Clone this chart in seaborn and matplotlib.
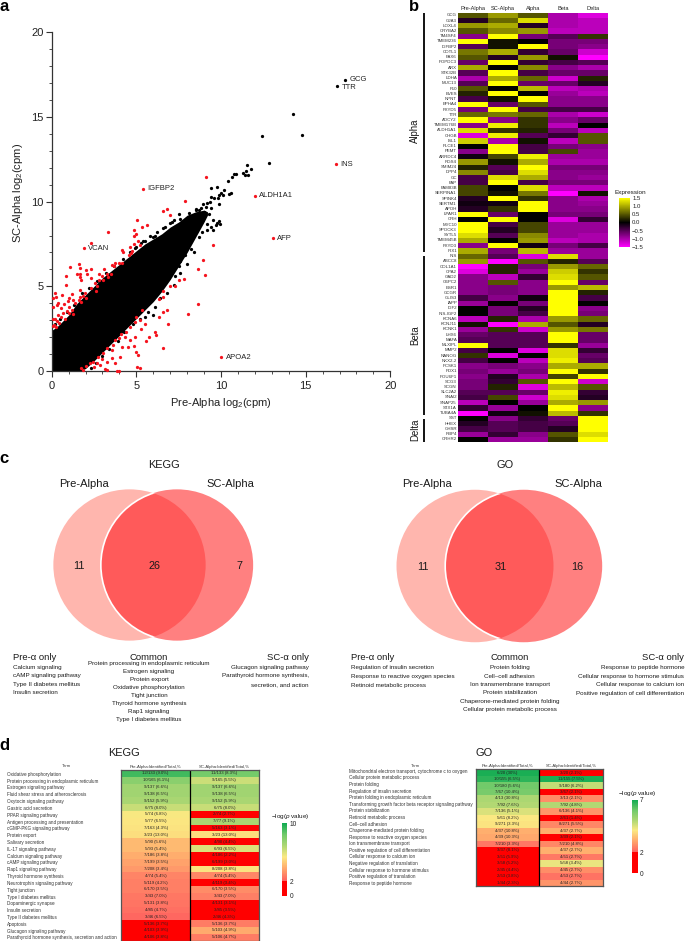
import numpy as np
import matplotlib
matplotlib.use("Agg")
import matplotlib.pyplot as plt
from matplotlib.colors import LinearSegmentedColormap
from matplotlib.patches import Ellipse
import seaborn as sns

sns.set_style("white")
plt.rcParams["font.family"] = ["Liberation Sans", "DejaVu Sans"]
plt.rcParams["mathtext.fontset"] = "custom"
plt.rcParams["mathtext.rm"] = "Liberation Sans"
plt.rcParams["mathtext.it"] = "Liberation Sans:italic"
plt.rcParams["mathtext.default"] = "regular"

W, H = 685, 941

# panel a - outline of the dense cloud
cloud_x = [0, 0.3, 0.6, 1, 1.5, 1.7, 2, 2.5, 3, 3.5, 4, 4.5, 5, 5.5, 6, 6.5, 7, 7.5, 8, 8.5, 9, 9.2]
cloud_hi = [2.4, 2.6, 2.9, 3.3, 4.0, 4.2, 4.5, 5.0, 5.5, 5.9, 6.3, 6.7, 7.1, 7.5, 7.8, 8.1, 8.5, 8.8, 9.2, 9.4, 9.5, 9.4]
cloud_lo = [0, 0, 0, 0, 0, 0, 0.15, 0.6, 1.1, 1.6, 2.1, 2.6, 3.1, 3.6, 4.1, 4.7, 5.4, 6.2, 7.0, 7.9, 8.8, 9.2]

black_x = [17.3, 16.85, 14.25, 14.8, 12.4, 12.85, 11.55, 11.75, 11.45, 11.6, 10.75, 10.9, 11.3, 11.4, 10.65, 10.4,
           10.6, 10.45, 10.2, 9.75, 10.0, 9.4, 9.9, 10.1, 9.4, 9.6, 9.8, 9.35, 9.9, 9.2, 8.95, 9.1, 9.4, 9.0, 9.3,
           9.05, 8.5, 8.7, 9.9, 9.95, 9.75, 9.5, 9.7, 9.4, 9.2, 9.5, 8.5, 8.7, 7.9, 8.25, 7.5, 7.9, 7.3, 7.6, 7.0,
           7.5, 7.15, 6.9, 6.6, 7.3, 7.0, 6.3, 6.6, 5.9, 6.2, 5.6, 6.0, 7.5, 7.0, 7.2, 6.7, 6.0, 6.1, 5.3, 5.5, 4.9,
           0.2, 0.5, 0.9, 1.3, 1.8, 2.2, 2.7, 3.2, 3.7, 4.2, 4.6, 5.0, 5.4, 5.8, 6.2, 6.6, 7.1, 7.6, 8.1, 8.5, 8.8,
           3.0, 3.4, 3.9, 4.3, 4.8, 5.2, 5.7, 6.1, 6.4, 6.8, 7.2, 7.6, 8.0, 8.4, 8.9, 9.2, 2.6, 2.3, 5.5, 6.0, 6.3]
black_y = [17.2, 16.85, 15.2, 13.95, 13.9, 12.3, 12.15, 11.9, 11.8, 11.6, 11.65, 11.65, 11.7, 11.55, 11.45, 11.2,
           10.5, 10.45, 10.7, 10.85, 10.5, 10.8, 10.4, 10.4, 10.3, 10.2, 10.2, 10.0, 9.85, 9.9, 9.85, 9.7, 9.6, 9.4,
           9.3, 9.2, 9.5, 9.5, 8.85, 8.7, 8.75, 8.9, 8.6, 8.5, 8.7, 8.35, 8.2, 7.9, 7.5, 7.2, 7.0, 6.85, 6.6, 6.5,
           6.5, 6.2, 6.2, 5.9, 5.8, 5.6, 5.7, 5.2, 5.3, 4.9, 4.7, 4.4, 4.5, 9.3, 8.75, 8.9, 8.5, 7.9, 7.95, 7.55, 7.7,
           7.25, 2.8, 3.1, 3.5, 3.9, 4.6, 4.9, 5.3, 5.8, 6.2, 6.6, 7.0, 7.35, 7.7, 8.0, 8.2, 8.45, 8.8, 9.0, 9.35,
           9.55, 9.6, 0.9, 1.3, 1.8, 2.3, 2.75, 3.1, 3.5, 3.8, 4.3, 4.6, 5.1, 5.8, 6.3, 7.0, 8.2, 8.3, 0.45, 0.2,
           3.2, 3.3, 4.9]

red_x = [1.9, 2.3, 3.3, 5.4, 9.1, 7.9, 6.55, 6.8, 7.0, 5.05, 5.6, 5.35, 4.85, 5.0, 4.85, 5.1, 5.2, 4.85, 4.65, 4.75,
         4.7, 4.15, 4.2, 4.55, 3.75, 3.95, 4.15, 3.55, 3.7, 3.1, 2.35, 2.0, 1.1, 1.6, 1.65, 1.65, 1.5, 1.65, 0.85,
         1.75, 2.35, 2.1, 2.8, 2.95, 2.8, 3.25, 3.35, 3.5, 3.05, 2.55, 2.7, 0.85, 1.7, 1.95, 2.3, 2.6, 1.85, 1.7, 1.6,
         1.75, 2.0, 1.2, 0.6, 1.05, 1.25, 0.95, 1.4, 0.2, 0.05, 0.25, 0.4, 0.3, 0.55, 0.1, 0.75, 1.05, 1.2, 0.9, 0.65,
         0.35, 0.55, 0.8, 1.0, 1.25, 0.2, 0.05, 0.3, 0.45, 0.15, 0.05, 0.25,
         10.0, 16.8, 12.0, 13.05, 9.5, 8.95, 8.65, 9.05, 7.8, 7.5, 7.0, 7.3, 6.6, 6.6, 6.35, 8.65, 8.05, 6.8, 6.6,
         6.35, 6.85, 6.1, 6.15, 5.75, 5.55, 6.55, 5.3, 5.5, 5.2, 5.35, 5.0, 4.9, 4.6, 4.4, 4.1, 3.95, 3.75, 4.35, 4.6,
         4.9, 3.65, 4.15, 4.5, 4.85, 5.0, 5.1, 4.05, 3.55, 3.25, 3.05, 2.75, 2.95, 2.45, 2.25, 2.65, 3.25, 3.55, 2.05,
         1.75, 1.85, 2.5, 2.85, 3.15, 3.25, 3.85, 4.0, 3.75, 5.05, 5.2]
red_y = [7.25, 7.55, 8.2, 10.75, 11.45, 10.05, 9.45, 9.55, 9.2, 8.9, 8.65, 8.5, 8.3, 8.1, 8.0, 7.65, 7.45, 7.5, 7.3, 7.1,
         6.95, 7.15, 7.0, 6.85, 6.4, 6.4, 6.35, 6.25, 6.2, 6.0, 6.05, 5.95, 6.15, 6.3, 6.1, 5.75, 5.7, 5.55, 5.6,
         5.4, 5.5, 5.7, 5.7, 5.6, 5.35, 5.7, 5.55, 5.75, 5.35, 5.2, 5.0, 5.1, 4.8, 4.6, 4.9, 4.7, 4.4, 4.35, 4.2,
         4.1, 4.3, 4.55, 4.5, 4.3, 4.2, 4.15, 4.0, 4.6, 4.3, 4.35, 4.0, 3.9, 3.7, 3.8, 3.95, 3.8, 3.6, 3.55, 3.4,
         3.3, 3.2, 3.1, 3.4, 3.35, 3.1, 3.05, 2.95, 2.85, 2.7, 2.65, 2.6,
         0.8, 12.2, 10.35, 7.85, 7.45, 6.55, 6.05, 5.65, 5.45, 5.35, 5.0, 5.0, 4.7, 4.35, 4.25, 3.95, 3.35, 3.6, 3.5,
         3.2, 2.8, 2.3, 2.15, 2.0, 1.75, 1.35, 2.5, 2.8, 3.0, 3.6, 3.2, 2.9, 2.6, 2.3, 2.2, 1.95, 1.85, 2.0, 1.85,
         2.0, 1.55, 1.4, 1.4, 1.45, 1.15, 0.95, 0.85, 1.25, 1.35, 1.05, 0.85, 0.7, 0.55, 0.45, 0.45, 0.55, 0.75, 0.3,
         0.15, 0.05, 0.25, 0.35, 0.1, 0.05, 0.02, 0.02, 0.45, 0.25, 0.2]

gene_names = ["GCG", "TTR", "INS", "IGFBP2", "ALDH1A1", "AFP", "VCAN", "APOA2"]
gene_x = [17.3, 16.85, 16.8, 5.4, 12.0, 13.05, 1.9, 10.0]
gene_y = [17.2, 16.85, 12.2, 10.75, 10.35, 7.85, 7.25, 0.8]

# panel b
columns = ["Pre-Alpha", "SC-Alpha", "Alpha", "Beta", "Delta"]
alpha_genes = ["GCG", "GJA3", "LOXL4", "CRYBA2", "TM4SF4", "TMEM236", "IGFBP2", "COTL1", "PAX6", "POPDC3", "ARX",
               "STK32B", "LDHA", "MUC13", "F10", "BVES", "NPNT", "EPHA4", "FXYD5", "TTR", "ADCY2", "TMEM176B",
               "ALDH1A1", "CHGB", "ISL1", "PLCE1", "PEMT", "ARRDC4", "RGS4", "SMIM24", "DPP4", "GC", "FAP", "FAM83B",
               "SERPINA1", "SPINK4", "SERTM1", "APOH", "LPAR1", "CRH", "MYC10", "SPOCK3", "SYTL5", "TMEM45B",
               "FXYD3", "IRX1"]
alpha_expr = [[0.5, 0.9, 0.5, -1.0, -1.3], [-0.2, 0.6, 1.3, -1.0, -1.1], [0.9, 1.0, -0.2, -1.0, -1.1],
              [0.5, 0.8, 0.9, -1.1, -1.1], [-0.8, 1.5, -0.7, -0.5, 0.3], [1.5, 0.1, 0.0, -0.7, -0.7],
              [-0.5, 0.1, 1.5, -0.7, -0.8], [0.7, 1.0, -0.3, -0.6, -1.2], [0.5, -0.2, 0.9, 0.1, -1.5],
              [-0.6, 1.5, -0.3, -0.4, -0.5], [1.0, 0.0, 0.8, -0.8, -1.0], [-0.5, 1.5, -0.4, -0.6, -0.6],
              [-1.0, 1.0, 0.6, -1.2, 0.2], [-0.5, 1.5, -0.6, -0.6, -0.2], [0.5, 0.0, 1.1, -1.1, -1.0],
              [0.2, 1.5, 0.0, -0.9, -1.1], [-0.4, 0.1, 1.5, -0.8, -0.8], [1.5, -0.6, 0.5, -0.8, -0.8],
              [-0.7, 1.5, -0.4, -0.4, -0.4], [0.6, 0.7, 0.6, -1.0, -1.2], [1.5, -0.8, 0.3, -0.8, -0.6],
              [-0.8, 1.4, 0.3, -1.1, 0.0], [1.3, 0.3, 0.2, -0.7, -1.1], [-1.3, 1.4, -0.5, -0.3, 0.5],
              [1.2, -1.0, 0.1, -1.1, 0.5], [0.0, 1.5, -0.4, -0.7, -0.8], [-0.8, 1.5, -0.4, 0.4, -0.9],
              [-0.1, 0.4, 1.4, -0.9, -0.9], [0.9, 0.1, 1.0, -1.0, -1.0], [0.2, -0.5, 1.5, -0.7, -0.7],
              [0.8, -0.4, 1.3, -0.8, -0.8], [-0.4, 1.3, 1.0, -0.8, -0.9], [-0.4, 1.5, -0.4, -0.7, -0.7],
              [0.4, 0.0, 1.3, -1.1, -1.1], [0.4, 0.1, 0.7, -1.5, 0.1], [-0.2, 1.5, 0.3, -0.8, -1.0],
              [-0.1, -0.1, 1.5, -0.8, -0.9], [-0.2, 0.3, 1.5, -0.8, -0.8], [1.5, -0.6, 0.0, -0.7, -0.7],
              [0.0, 1.5, 0.0, -1.3, -0.3], [1.5, -0.4, 0.4, -0.9, -0.9], [1.5, -0.2, 0.4, -0.9, -0.9],
              [1.3, -0.5, 0.8, -0.9, -1.0], [1.0, 0.0, 0.9, -1.1, -1.0], [-0.8, 1.5, -0.1, -0.7, -0.4],
              [1.0, -0.7, 1.1, -0.9, -0.9]]
beta_genes = ["INS", "ABCC8", "COL1A1", "CPA2", "GAD2", "G6PC2", "ESR1", "GCGR", "GLIS3", "IAPP", "IGF2", "INS-IGF2",
              "KCNA6", "KCNJ11", "KCNK1", "LHX6", "MAFA", "MLXIPL", "MMP2", "NANOG", "NKX2-2", "PCSK1", "PDX1",
              "POU6F1", "SCG3", "SCGN", "SLC2A2", "SNAI2", "SNAP25", "STX1A", "TUBA4A"]
beta_expr = [[0.6, -0.5, -1.3, 1.3, -0.9], [0.9, -1.5, 0.5, 0.2, -0.5], [-1.5, 0.2, -0.7, 0.9, 0.6],
             [-1.3, 0.2, -0.9, 1.2, 0.3], [-0.8, -1.1, -0.3, 1.3, 0.5], [-0.8, 0.5, -0.8, 1.5, -0.6],
             [-0.8, -0.7, -0.8, 0.9, 1.1], [-0.8, -0.7, -0.8, 1.5, 0.2], [-0.4, -0.8, -0.1, 1.5, -0.4],
             [-0.9, 0.0, -0.7, 1.5, 0.0], [0.0, -0.7, -0.2, 1.5, -0.8], [0.0, -0.7, -0.4, 1.5, -0.7],
             [-1.1, 0.2, -1.0, 0.9, 0.6], [0.1, -1.5, 1.0, 0.5, -0.2], [-0.9, 0.3, -1.2, 0.9, 0.7],
             [-0.6, -0.5, -0.5, 1.5, -0.6], [-0.5, -0.5, -0.5, 1.5, -0.6], [1.5, -0.5, -0.5, 0.3, -0.9],
             [-0.4, 0.0, -1.3, 1.3, -0.3], [0.3, -1.3, 0.0, 1.3, -0.6], [-0.4, 0.0, -1.1, 1.4, -0.5],
             [-0.8, -0.7, -0.8, 1.0, 1.0], [-0.7, -0.9, -0.7, 1.5, 0.3], [-0.8, -0.2, -1.0, 0.4, 1.5],
             [-0.7, -0.3, 0.5, 1.5, -1.2], [-0.7, 0.2, -1.3, 1.1, 0.5], [-0.5, -0.5, -0.6, 1.4, -0.3],
             [-0.4, 0.4, -1.2, 1.3, -0.2], [-1.1, 0.0, -0.9, 1.0, 0.9], [-0.3, -0.9, 0.0, 1.5, -0.8],
             [-1.5, -0.1, 0.1, 1.1, 0.3]]
delta_genes = ["SST", "HHEX", "GHSR", "RBP4", "CRHR2"]
delta_expr = [[0.0, -0.8, -0.3, -0.6, 1.5], [-0.2, -0.5, -0.4, -0.5, 1.5], [-0.4, -0.5, -0.4, -0.2, 1.5],
              [-0.9, -0.3, -0.8, 0.5, 1.3], [0.0, -0.9, -0.9, 0.3, 1.5]]

# panel c
kegg_counts = [11, 26, 7]
go_counts = [11, 31, 16]
kegg_pre = ["Calcium signaling", "cAMP signaling pathway", "Type II diabetes mellitus", "Insulin secretion"]
kegg_common = ["Protein processing in endoplasmic reticulum", "Estrogen signaling", "Protein export",
               "Oxidative phosphorylation", "Tight junction", "Thyroid hormone synthesis", "Rap1 signaling",
               "Type I diabetes mellitus"]
kegg_sc = ["Glucagon signaling pathway", "Parathyroid hormone synthesis,", "secretion, and action"]
go_pre = ["Regulation of insulin secretion", "Response to reactive oxygen species", "Retinoid metabolic process"]
go_common = ["Protein folding", "Cell\u2013cell adhesion", "Ion transmembrane transport", "Protein stabilization",
             "Chaperone-mediated protein folding", "Cellular protein metabolic process"]
go_sc = ["Response to peptide hormone", "Cellular response to hormone stimulus", "Cellular response to calcium ion",
         "Positive regulation of cell differentiation"]

# panel d
kegg_terms = ["Oxidative phosphorylation", "Protein processing in endoplasmic reticulum", "Estrogen signaling pathway",
              "Fluid shear stress and atherosclerosis", "Oxytocin signaling pathway", "Gastric acid secretion",
              "PPAR signaling pathway", "Antigen processing and presentation", "cGMP-PKG signaling pathway",
              "Protein export", "Salivary secretion", "IL-17 signaling pathway", "Calcium signaling pathway",
              "cAMP signaling pathway", "Rap1 signaling pathway", "Thyroid hormone synthesis",
              "Neurotrophin signaling pathway", "Tight junction", "Type I diabetes mellitus", "Dopaminergic synapse",
              "Insulin secretion", "Type II diabetes mellitus", "Apoptosis", "Glucagon signaling pathway",
              "Parathyroid hormone synthesis, secretion and action"]
kegg_pre_p = [9.2, 7.8, 7.2, 7.2, 7.0, 6.4, 5.4, 5.3, 5.2, 5.1, 4.2, 4.2, 3.9, 3.6, 3.4, 2.9, 2.8, 2.8, 2.6, 2.5, 2.4,
              2.2, 1.5, 1.4, 1.3]
kegg_sc_p = [8.3, 6.3, 7.2, 7.2, 7.0, 6.4, 1.2, 7.0, 1.2, 5.1, 1.2, 6.0, 1.2, 1.2, 5.2, 3.0, 1.5, 3.1, 2.8, 1.2, 1.3,
             1.4, 2.7, 3.8, 2.7]
kegg_pre_txt = ["12/133 (9.0%)", "10/165 (6.1%)", "9/137 (6.6%)", "9/138 (6.5%)", "9/152 (5.9%)", "6/75 (8.0%)",
                "5/74 (6.8%)", "5/77 (6.5%)", "7/163 (4.3%)", "3/23 (13.0%)", "5/90 (5.6%)", "5/93 (5.4%)",
                "7/186 (3.8%)", "7/199 (3.5%)", "7/208 (3.4%)", "4/74 (5.4%)", "5/119 (4.2%)", "6/170 (3.5%)",
                "3/43 (7.0%)", "5/131 (3.8%)", "4/85 (4.7%)", "3/46 (6.5%)", "5/136 (3.7%)", "4/103 (3.9%)",
                "4/106 (3.8%)"]
kegg_sc_txt = ["11/133 (8.3%)", "9/165 (5.5%)", "9/137 (6.6%)", "9/138 (6.5%)", "9/152 (5.9%)", "6/75 (8.0%)",
               "2/74 (2.7%)", "7/77 (9.1%)", "5/163 (3.1%)", "3/23 (13.0%)", "4/90 (4.4%)", "6/93 (6.5%)",
               "4/186 (2.2%)", "6/199 (3.0%)", "8/208 (3.8%)", "4/74 (5.4%)", "4/119 (3.4%)", "6/170 (3.5%)",
               "3/43 (7.0%)", "4/131 (3.1%)", "3/85 (3.5%)", "2/46 (4.3%)", "5/136 (3.7%)", "5/103 (4.9%)",
               "5/106 (4.7%)"]
go_terms = ["Mitochondrial electron transport, cytochrome c to oxygen", "Cellular protein metabolic process",
            "Protein folding", "Regulation of insulin secretion", "Protein folding in endoplasmic reticulum",
            "Transforming growth factor beta receptor signaling pathway", "Protein stabilization",
            "Retinoid metabolic process", "Cell\u2013cell adhesion", "Chaperone-mediated protein folding",
            "Response to reactive oxygen species", "Ion transmembrane transport",
            "Positive regulation of cell differentiation", "Cellular response to calcium ion",
            "Negative regulation of translation", "Cellular response to hormone stimulus",
            "Positive regulation of translation", "Response to peptide hormone"]
go_pre_p = [6.9, 6.7, 6.0, 5.9, 5.1, 5.0, 4.5, 4.1, 4.0, 3.2, 3.1, 2.4, 1.8, 1.7, 1.6, 1.5, 1.4, 1.3]
go_sc_p = [1.2, 6.9, 4.8, 1.2, 2.7, 5.0, 2.8, 1.2, 2.6, 3.2, 1.2, 2.6, 3.2, 2.4, 4.3, 2.7, 2.3, 2.8]
go_pre_txt = ["6/20 (30%)", "10/155 (6.5%)", "10/180 (5.6%)", "7/67 (10.4%)", "4/13 (30.8%)", "7/92 (7.6%)",
              "7/136 (5.1%)", "5/61 (8.2%)", "9/271 (3.3%)", "4/37 (10.8%)", "4/39 (10.3%)", "7/210 (3.3%)",
              "3/37 (8.1%)", "3/51 (5.9%)", "3/58 (5.2%)", "2/45 (4.4%)", "2/53 (3.8%)", "1/44 (2.3%)"]
go_sc_txt = ["3/20 (2.1%)", "11/155 (7.5%)", "9/180 (6.2%)", "3/67 (2.1%)", "3/13 (2.1%)", "7/92 (4.8%)",
             "6/136 (4.1%)", "2/61 (1.4%)", "8/271 (5.5%)", "4/37 (2.7%)", "3/39 (2.1%)", "7/210 (4.8%)",
             "4/37 (2.7%)", "4/51 (2.7%)", "5/58 (3.4%)", "4/45 (2.7%)", "4/53 (2.7%)", "4/44 (2.7%)"]
d_headers = ["Pre-Alpha:Identified/Total,%", "SC-Alpha:Identified/Total,%"]

fig = plt.figure(figsize=(W / 100, H / 100), dpi=100, facecolor="white")


def px_axes(x0, y0, x1, y1):
    # axes from pixel box of the picture
    return fig.add_axes([x0 / W, 1 - y1 / H, (x1 - x0) / W, (y1 - y0) / H])


# overlay for venn and free text
page = px_axes(0, 0, W, H)
page.set_xlim(0, W)
page.set_ylim(H, 0)
page.axis("off")


def page_text(x, y, s, size, ha="center", **kw):
    page.text(x, y, s, fontsize=size, ha=ha, va="center", color=kw.pop("color", "#1a1a1a"), **kw)


for x, y, s in [(4, 6, "a"), (414, 6, "b"), (4, 458, "c"), (4, 746, "d")]:
    page_text(x, y, s, 12, color="black", fontweight="bold")

# a
ax = px_axes(51.7, 32.3, 390.3, 371)
ax.fill_between(cloud_x, cloud_lo, cloud_hi, color="black", linewidth=0, zorder=1)
sns.scatterplot(x=black_x, y=black_y, color="black", s=5.5, linewidth=0, ax=ax, zorder=2)
sns.scatterplot(x=red_x, y=red_y, color="#f5141e", s=5.5, linewidth=0, ax=ax, zorder=3, clip_on=False)
ax.set_xlim(0, 20)
ax.set_ylim(0, 20)
ax.set_xticks(np.arange(0, 21, 5))
ax.set_yticks(np.arange(0, 21, 5))
ax.set_xticks(np.arange(0, 21, 1), minor=True)
ax.set_yticks(np.arange(0, 21, 1), minor=True)
ax.tick_params(which="major", length=4, width=0.8, color="#333333", labelsize=8, pad=2, labelcolor="#222222",
               bottom=True, left=True)
ax.tick_params(axis="x", which="major", pad=3)
ax.tick_params(which="minor", length=2, width=0.6, color="#333333", bottom=True, left=True)
for side in ["top", "right"]:
    ax.spines[side].set_visible(False)
for side in ["left", "bottom"]:
    ax.spines[side].set_color("#333333")
    ax.spines[side].set_linewidth(0.9)
ax.set_xlabel("Pre-Alpha log$_{2}$(cpm)", fontsize=8, color="#222222", labelpad=4)
ax.set_ylabel("SC-Alpha log$_{2}$(cpm)", fontsize=8, color="#222222")
ax.yaxis.set_label_coords(-0.078, 0.527)
ax.patch.set_alpha(0)
for name, gx, gy in zip(gene_names, gene_x, gene_y):
    dy = -0.12 if name == "TTR" else 0.0
    ax.text(gx + 0.27, gy + dy, name, fontsize=5.5, va="center", color="#222222")

# b
expr_genes = alpha_genes + beta_genes + delta_genes
expr_values = np.array(alpha_expr + beta_expr + delta_expr)
mag_yel = LinearSegmentedColormap.from_list("mag_yel", ["#ff00ff", "black", "#ffff00"])
ax = px_axes(458.3, 12.7, 608, 442)
cax = px_axes(619, 198, 630, 247)
sns.heatmap(expr_values, cmap=mag_yel, vmin=-1.5, vmax=1.5, xticklabels=columns, yticklabels=expr_genes, ax=ax,
            cbar_ax=cax)
ax.xaxis.tick_top()
ax.tick_params(axis="x", length=0, labelsize=4.1, pad=1, rotation=0, labelcolor="#222222")
ax.tick_params(axis="y", length=0, labelsize=3.2, pad=1, rotation=0, labelcolor="#333333")
cax.set_yticks([-1.5, -1, -0.5, 0, 0.5, 1, 1.5])
cax.set_yticklabels(["\u22121.5", "\u22121.0", "\u22120.5", "0.0", "0.5", "1.0", "1.5"])
cax.tick_params(length=0, labelsize=4.3, pad=1.5, labelcolor="#222222")
page_text(615, 192, "Expression", 4.6, ha="left")

for top, bottom, label, mid in [(12.7, 252, "Alpha", 131), (256, 415, "Beta", 335), (419, 442, "Delta", 430)]:
    page.plot([424, 424], [top, bottom], color="black", lw=1.3, solid_capstyle="butt")
    page_text(415, mid, label, 6.9, rotation=90)


# c
def venn(x_left, x_right, y_mid, w, h, counts, title, title_x, pre_x, sc_x, count_x, head_x, lists, list_y, list_step):
    e1 = Ellipse((x_left, y_mid), w, h, facecolor="#ffb6ae", edgecolor="none", zorder=1)
    e2 = Ellipse((x_right, y_mid), w, h, facecolor="#ff8080", edgecolor="none", zorder=2)
    page.add_patch(e1)
    page.add_patch(e2)
    mid = Ellipse((x_right, y_mid), w, h, facecolor="#ff5a5a", edgecolor="white", lw=1.2, zorder=3)
    page.add_patch(mid)
    mid.set_clip_path(e1)
    page_text(title_x, 465, title, 7.9)
    page_text(pre_x, 484, "Pre-Alpha", 8)
    page_text(sc_x, 484, "SC-Alpha", 8)
    for cx, n in zip(count_x, counts):
        page.text(cx, y_mid + 1, str(n), fontsize=7.8, ha="center", va="center", color="#1a1a1a", zorder=5)
    heads = ["Pre-\u03b1 only", "Common", "SC-\u03b1 only"]
    aligns = ["left", "center", "right"]
    for hx, head, al, items, y0, step in zip(head_x, heads, aligns, lists, list_y, list_step):
        page_text(hx, 657, head, 6.8, ha=al)
        for i, item in enumerate(items):
            page_text(hx, y0 + i * step, item, 4.5, ha=al)


venn(129.5, 177, 565, 152.3, 151.3, kegg_counts, "KEGG", 163.7, 84, 230, [79, 155, 240], [13.3, 149, 309],
     [kegg_pre, kegg_common, kegg_sc], [667.7, 664, 667.7], [8.2, 8.0, 8.3])
venn(475, 523.7, 566, 157, 152.5, go_counts, "GO", 505, 426.7, 578, [422.7, 501, 577], [351.3, 509.7, 684.3],
     [go_pre, go_common, go_sc], [667.7, 667.7, 667.7], [8.67, 8.33, 8.44])


# d
def p_cmap(vmax):
    # solid red up to 2, then salmon through yellow to green
    cut = 2 / vmax
    stops = [0.25, 0.42, 0.6, 0.8, 1]
    cols = ["#ffb26e", "#fbe982", "#b2d873", "#72ca6a", "#12ab52"]
    nodes = [(0, "#ff0000"), (cut, "#ff0000"), (cut + 0.001, "#ff5f5f")]
    nodes += [(cut + t * (1 - cut), c) for t, c in zip(stops, cols)]
    return LinearSegmentedColormap.from_list("p_val", nodes)


def term_table(box, cbox, vmax, left_vals, right_vals, left_txt, right_txt, terms, term_x, term_ys, term_head_x,
               title, title_x, bar_title_x, bar_title_y, term_size):
    ax = px_axes(*box)
    cax = px_axes(*cbox)
    values = np.column_stack([left_vals, right_vals])
    labels = np.column_stack([left_txt, right_txt])
    sns.heatmap(values, cmap=p_cmap(vmax), vmin=0, vmax=vmax, annot=labels, fmt="",
                annot_kws={"size": 3.1, "color": "#222222"}, xticklabels=d_headers, yticklabels=False, ax=ax,
                cbar_ax=cax)
    ax.xaxis.tick_top()
    ax.tick_params(axis="x", length=0, labelsize=3.1, pad=1, labelcolor="#333333", rotation=0)
    ax.axvline(1, color="black", lw=0.9)
    for spine in ax.spines.values():
        spine.set_visible(True)
        spine.set_color("#555555")
        spine.set_linewidth(0.9)
    cax.set_yticks([0, 2, vmax])
    cax.tick_params(length=0, labelsize=4.8, pad=1.5, labelcolor="#222222")
    for name, ty in zip(terms, term_ys):
        page_text(term_x, ty, name, term_size, ha="left", color="#333333")
    page_text(term_head_x, 766, "Term", 3, color="#333333")
    page_text(title_x, 753, title, 7.9)
    page_text(bar_title_x, bar_title_y, r"$-$log($\mathit{p}$ value)", 4.6)


kegg_rows = 730 + (133 + np.arange(len(kegg_terms)) * 20.45) / 3
go_rows = 730 + (124 + np.arange(len(go_terms)) * 19.76) / 3
term_table((121.3, 770, 258.7, 940.7), (281.7, 823.3, 287.3, 895.7), 10, kegg_pre_p, kegg_sc_p, kegg_pre_txt,
           kegg_sc_txt, kegg_terms, 7.3, kegg_rows, 66, "KEGG", 124, 290, 816.7, 3.35)
term_table((475.7, 769.3, 602.7, 886), (632, 800, 637.7, 873.3), 7, go_pre_p, go_sc_p, go_pre_txt, go_sc_txt,
           go_terms, 349.3, go_rows, 415, "GO", 484, 637, 794, 3.35)

fig.savefig("out.png", dpi=100)
